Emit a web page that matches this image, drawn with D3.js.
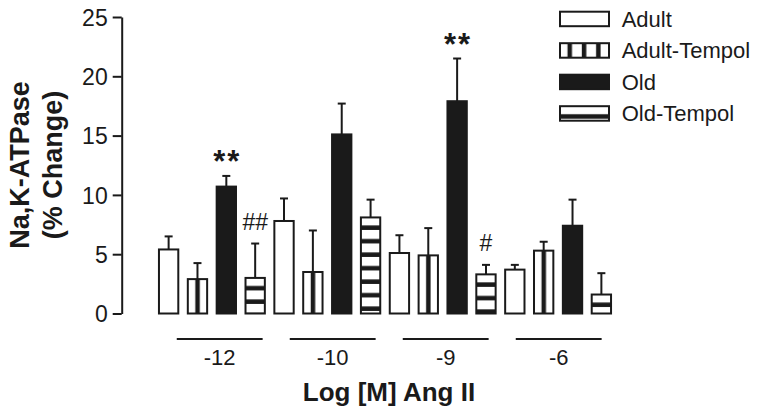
<!DOCTYPE html>
<html>
<head>
<meta charset="utf-8">
<script src="https://cdn.jsdelivr.net/npm/d3@7"></script>
<style>
  html, body { margin: 0; padding: 0; background: #fff; }
  svg { display: block; }
  text { font-family: "Liberation Sans", Arial, Helvetica, sans-serif; fill: #1a1a1a; }
</style>
</head>
<body>
<svg id="chart" width="762" height="415"></svg>
<script>
// ---- data ----
const groups = ["-12", "-10", "-9", "-6"];
const seriesNames = ["Adult", "Adult-Tempol", "Old", "Old-Tempol"];
const adult = [5.4, 7.8, 5.1, 3.7];
const adultErr = [1.1, 1.9, 1.5, 0.4];
const adultTempol = [2.9, 3.5, 4.9, 5.3];
const adultTempolErr = [1.35, 3.5, 2.3, 0.75];
const old = [10.7, 15.1, 17.9, 7.4];
const oldErr = [0.9, 2.6, 3.6, 2.2];
const oldTempol = [3.0, 8.1, 3.3, 1.6];
const oldTempolErr = [2.9, 1.5, 0.8, 1.8];
const yTicks = [0, 5, 10, 15, 20, 25];
const annotations = [
  { group: "-12", series: "Old", text: "**" },
  { group: "-12", series: "Old-Tempol", text: "##" },
  { group: "-9", series: "Old", text: "**" },
  { group: "-9", series: "Old-Tempol", text: "#" }
];
const yTitle = ["Na,K-ATPase", "(% Change)"];
const xTitle = "Log [M] Ang II";

const values = [adult, adultTempol, old, oldTempol];
const errors = [adultErr, adultTempolErr, oldErr, oldTempolErr];
const rows = [];
groups.forEach((g, gi) => seriesNames.forEach((s, si) => {
  rows.push({ group: g, series: s, si, value: values[si][gi], err: errors[si][gi] });
}));

// ---- layout ----
const svg = d3.select("#chart");
const ink = "#1a1a1a";
const y = d3.scaleLinear().domain([0, 25]).range([313.5, 17]);
const x0 = d3.scaleBand().domain(groups).range([154.2, 615.8]).padding(0);
const x1 = d3.scaleBand().domain(seriesNames).range([0, x0.bandwidth()])
  .paddingInner(0.33).paddingOuter(0.165);
const xLine = d3.scaleBand().domain(groups).range([163.2, 615.2])
  .paddingInner(0.24).paddingOuter(0.12);

const defs = svg.append("defs");
function makeVPattern(id, x0p) {
  const p = defs.append("pattern").attr("id", id).attr("patternUnits", "userSpaceOnUse")
    .attr("x", x0p).attr("y", 0).attr("width", 14.3).attr("height", 10);
  p.append("rect").attr("width", 14.3).attr("height", 10).attr("fill", "#fff");
  p.append("rect").attr("x", 7.5).attr("width", 4.5).attr("height", 10).attr("fill", ink);
}
function makeHPattern(id, y0p) {
  const p = defs.append("pattern").attr("id", id).attr("patternUnits", "userSpaceOnUse")
    .attr("x", 0).attr("y", y0p).attr("width", 10).attr("height", 13.5);
  p.append("rect").attr("width", 10).attr("height", 13.5).attr("fill", "#fff");
  p.append("rect").attr("y", 8).attr("width", 10).attr("height", 4.5).attr("fill", ink);
}
function fillFor(d, i, bx, by) {
  if (d.series === "Adult") return "#fff";
  if (d.series === "Old") return ink;
  const id = "pat" + i;
  if (d.series === "Adult-Tempol") makeVPattern(id, bx);
  else makeHPattern(id, by);
  return "url(#" + id + ")";
}

// ---- bars ----
const barG = svg.append("g");
rows.forEach((d, i) => {
  const bx = x0(d.group) + x1(d.series);
  const by = y(d.value);
  const bw = x1.bandwidth();
  const fill = fillFor(d, i, bx, by);
  const cx = bx + bw / 2;
  // error bar (upper only)
  barG.append("line").attr("x1", cx).attr("x2", cx)
    .attr("y1", by).attr("y2", y(d.value + d.err))
    .attr("stroke", ink).attr("stroke-width", 2);
  barG.append("line").attr("x1", cx - 4).attr("x2", cx + 4)
    .attr("y1", y(d.value + d.err)).attr("y2", y(d.value + d.err))
    .attr("stroke", ink).attr("stroke-width", 2);
  barG.append("rect").attr("x", bx).attr("y", by)
    .attr("width", bw).attr("height", y(0) - by)
    .attr("fill", fill).attr("stroke", ink).attr("stroke-width", 2);
});

// ---- annotations ----
annotations.forEach(a => {
  const d = rows.find(r => r.group === a.group && r.series === a.series);
  const cx = x0(d.group) + x1(d.series) + x1.bandwidth() / 2;
  const top = y(d.value + d.err);
  const isStar = a.text.indexOf("*") >= 0;
  svg.append("text").attr("x", cx).attr("y", isStar ? top - 3.5 : top - 14)
    .attr("text-anchor", "middle")
    .attr("font-size", isStar ? 31 : 23)
    .attr("font-weight", isStar ? "bold" : "normal")
    .attr("letter-spacing", isStar ? 2 : 0)
    .attr("dx", isStar ? 1 : 0)
    .text(a.text);
});

// ---- y axis ----
const yAxis = svg.append("g").attr("transform", "translate(121.7,0)")
  .call(d3.axisLeft(y).tickValues(yTicks).tickSize(9).tickSizeOuter(0).tickPadding(5));
yAxis.select(".domain").attr("stroke", ink).attr("stroke-width", 2);
yAxis.selectAll(".tick line").attr("stroke", ink).attr("stroke-width", 2);
yAxis.selectAll(".tick text").attr("font-size", 23)
  .attr("font-family", "'Liberation Sans', Arial, sans-serif").attr("fill", ink)
  .attr("dy", "0.36em");

// y title
const yt = svg.append("text").attr("transform", "translate(28.5,165) rotate(-90)")
  .attr("text-anchor", "middle").attr("font-size", 27).attr("font-weight", "bold");
yt.append("tspan").attr("x", 0).attr("y", 0).text(yTitle[0]);
yt.append("tspan").attr("x", 0).attr("y", 33).text(yTitle[1]);

// ---- x group lines & labels ----
groups.forEach(g => {
  svg.append("line").attr("x1", xLine(g)).attr("x2", xLine(g) + xLine.bandwidth())
    .attr("y1", 339).attr("y2", 339).attr("stroke", ink).attr("stroke-width", 2);
  svg.append("text").attr("x", xLine(g) + xLine.bandwidth() / 2).attr("y", 365)
    .attr("text-anchor", "middle").attr("font-size", 22).text(g);
});
svg.append("text").attr("x", 389).attr("y", 401).attr("text-anchor", "middle")
  .attr("font-size", 26).attr("font-weight", "bold").text(xTitle);

// ---- legend ----
const legend = svg.append("g");
seriesNames.forEach((s, i) => {
  const ly = 11.7 + i * 31.5;
  const lx = 560;
  let fill = "#fff";
  if (s === "Old") fill = ink;
  else if (s === "Adult-Tempol") { makeVPattern("leg" + i, lx); fill = "url(#leg" + i + ")"; }
  else if (s === "Old-Tempol") { makeHPattern("leg" + i, ly); fill = "url(#leg" + i + ")"; }
  legend.append("rect").attr("x", lx).attr("y", ly).attr("width", 49).attr("height", 14.5)
    .attr("fill", fill).attr("stroke", ink).attr("stroke-width", 2);
  legend.append("text").attr("x", 621.7).attr("y", ly + 15).attr("font-size", 22).text(s);
});
</script>
</body>
</html>
